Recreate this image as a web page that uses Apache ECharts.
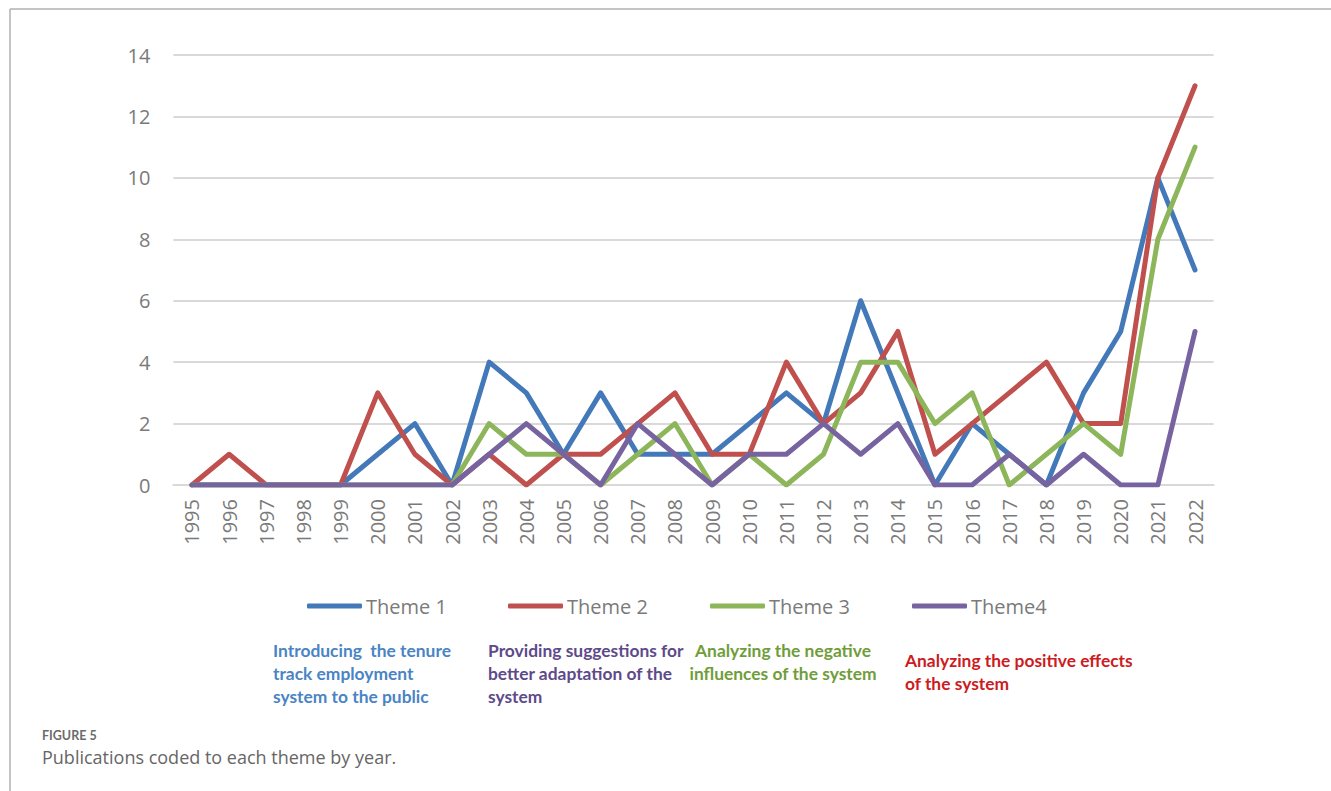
<!DOCTYPE html>
<html>
<head>
<meta charset="utf-8">
<title>Publications coded to each theme by year</title>
<script src="https://cdn.jsdelivr.net/npm/echarts@6/dist/echarts.min.js"></script>
<style>
  html, body { margin: 0; padding: 0; background: #ffffff; }
  #chart { width: 1331px; height: 791px; }
</style>
</head>
<body>
<div id="chart"></div>
<script>
// Publication years
const years = ['1995','1996','1997','1998','1999','2000','2001','2002','2003','2004',
  '2005','2006','2007','2008','2009','2010','2011','2012','2013','2014',
  '2015','2016','2017','2018','2019','2020','2021','2022'];

// Publications per theme and year
const theme1 = [0,0,0,0,0,1,2,0,4,3,1,3,1,1,1,2,3,2,6,3,0,2,1,0,3,5,10,7];
const theme2 = [0,1,0,0,0,3,1,0,1,0,1,1,2,3,1,1,4,2,3,5,1,2,3,4,2,2,10,13];
const theme3 = [0,0,0,0,0,0,0,0,2,1,1,0,1,2,0,1,0,1,4,4,2,3,0,1,2,1,8,11];
const theme4 = [0,0,0,0,0,0,0,0,1,2,1,0,2,1,0,1,1,2,1,2,0,0,1,0,1,0,0,5];

const seriesNames = ['Theme 1', 'Theme 2', 'Theme 3', 'Theme4'];
const yTicks = { min: 0, max: 14, interval: 2 };

const colors = ['#4479b9', '#c0504d', '#8db65b', '#7763a0'];
const axisFont = '"Open Sans", "Noto Sans", sans-serif';
const noteFont = 'Lato, "Open Sans", "Noto Sans", sans-serif';
const grey = '#7a7a7a';

const chart = echarts.init(document.getElementById('chart'), null, { renderer: 'svg' });

function lineSeries(name, data, color) {
  return {
    name: name,
    type: 'line',
    data: data,
    showSymbol: false,
    symbol: 'none',
    color: color,
    lineStyle: { width: 5, color: color, cap: 'round', join: 'round' },
    emphasis: { disabled: true },
    animation: false
  };
}

const legendLefts = [307, 508, 710, 912];
const legends = seriesNames.map((n, i) => ({
  data: [n],
  left: legendLefts[i],
  top: 596,
  padding: 0,
  itemWidth: 55,
  itemHeight: 5,
  itemGap: 0,
  icon: 'roundRect',
  selectedMode: false,
  textStyle: { fontFamily: axisFont, fontSize: 20, color: grey, padding: [0, 0, 0, -1] }
}));

const option = {
  backgroundColor: '#ffffff',
  animation: false,
  grid: { left: 173.4, right: 117.4, top: 55, bottom: 306, containLabel: false },
  xAxis: {
    type: 'category',
    data: years,
    boundaryGap: true,
    axisLine: { show: true, lineStyle: { color: '#d9d9d9', width: 2 } },
    axisTick: { show: false },
    axisLabel: {
      rotate: 90,
      margin: 14,
      interval: 0,
      fontFamily: axisFont,
      fontSize: 20,
      color: grey
    }
  },
  yAxis: {
    type: 'value',
    min: yTicks.min,
    max: yTicks.max,
    interval: yTicks.interval,
    axisLine: { show: false },
    axisTick: { show: false },
    splitLine: { lineStyle: { color: '#d9d9d9', width: 2 } },
    axisLabel: { margin: 23, fontFamily: axisFont, fontSize: 20, color: grey }
  },
  legend: legends,
  series: [
    lineSeries(seriesNames[0], theme1, colors[0]),
    lineSeries(seriesNames[1], theme2, colors[1]),
    lineSeries(seriesNames[2], theme3, colors[2]),
    lineSeries(seriesNames[3], theme4, colors[3])
  ],
  graphic: [
    // frame lines along the top and left edge
    { type: 'line', shape: { x1: 10, y1: 9, x2: 1331, y2: 9 }, style: { stroke: '#b0b0b0', lineWidth: 1.5 } },
    { type: 'line', shape: { x1: 10, y1: 9, x2: 10, y2: 791 }, style: { stroke: '#b0b0b0', lineWidth: 1.5 } },
    // theme descriptions
    { type: 'text', left: 273, top: 639, style: {
        text: 'Introducing  the tenure\ntrack employment\nsystem to the public',
        font: 'bold 17.4px ' + noteFont, fill: '#4a84c4', lineHeight: 23 } },
    { type: 'text', left: 488, top: 639, style: {
        text: 'Providing suggestions for\nbetter adaptation of the\nsystem',
        font: 'bold 17.4px ' + noteFont, fill: '#5e4a8a', lineHeight: 23 } },
    { type: 'text', x: 783, y: 639, style: {
        text: 'Analyzing the negative\ninfluences of the system',
        font: 'bold 17.4px ' + noteFont, fill: '#6f9d3a', lineHeight: 23, align: 'center', verticalAlign: 'top' } },
    { type: 'text', left: 905, top: 649, style: {
        text: 'Analyzing the positive effects\nof the system',
        font: 'bold 17.4px ' + noteFont, fill: '#cc1b22', lineHeight: 23 } },
    // figure caption
    { type: 'text', left: 42, top: 729, style: {
        text: 'FIGURE 5', font: 'bold 12.5px ' + noteFont, fill: '#6b6b6b' } },
    { type: 'text', left: 42, top: 748, style: {
        text: 'Publications coded to each theme by year.', font: '18px ' + axisFont, fill: '#666666' } }
  ]
};

chart.setOption(option);
</script>
</body>
</html>
